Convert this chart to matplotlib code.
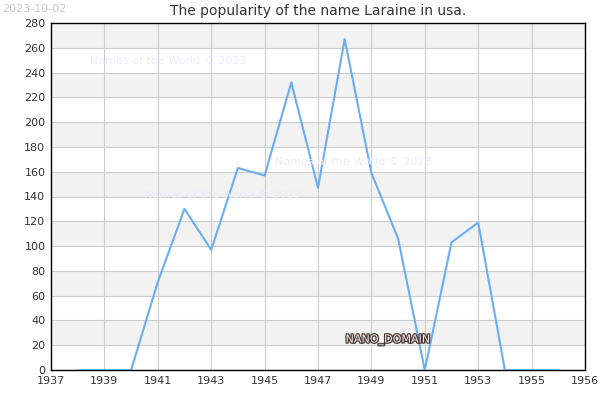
import matplotlib
matplotlib.use("Agg")
import matplotlib.pyplot as plt
import matplotlib.patheffects as pe

years = list(range(1938, 1957))
values = [0, 0, 0, 71, 130, 97, 163, 157, 232, 147, 267, 159, 106, 0, 103, 119, 0, 0, 0]
xtick_pos = [1937, 1939, 1941, 1943, 1945, 1947, 1949, 1951, 1953, 1955, 1957]
xtick_labels = ["1937", "1939", "1941", "1943", "1945", "1947", "1949", "1951", "1953", "1955", "1956"]
yticks = list(range(0, 281, 20))
title = "The popularity of the name Laraine in usa."

fig = plt.figure(figsize=(6, 4), dpi=100)
ax = fig.add_axes([51/600, 30/400, 534/600, 347/400])
ax.set_xlim(1937, 1957)
ax.set_ylim(0, 280)

for i in range(0, 280, 20):
    if (i // 20) % 2 == 1:
        ax.axhspan(i, i + 20, color="#f2f2f2", zorder=0, lw=0)

ax.set_xticks(xtick_pos)
ax.set_xticklabels(xtick_labels)
ax.set_yticks(yticks)
ax.grid(True, color="#cccccc", lw=0.8, zorder=1)
ax.set_axisbelow(True)
ax.tick_params(labelsize=8, colors="#333333", length=0, pad=4)
for s in ax.spines.values():
    s.set_color("black")
    s.set_linewidth(1)

ax.plot(years, values, color="#6aaef2", lw=1.5, zorder=3)

ax.set_title(title, fontsize=10, color="#333333", pad=6)
fig.text(2/600, 1 - 4/400, "2023-10-02", fontsize=8, color="#c8c8c8", va="top", ha="left")

wm = "Names of the World © 2023"
for (x, y) in [(168, 61), (353, 162), (222, 195)]:
    fig.text(x/600, 1 - y/400, wm, fontsize=8, color="#ececfa", ha="center", va="center")

fig.text(388/600, 1 - 340/400, "NANO_DOMAIN", fontsize=8, color="#f5ecec", ha="center", va="center",
         path_effects=[pe.withStroke(linewidth=1.8, foreground="#4a3a33")])

fig.savefig("out.png", dpi=100)
